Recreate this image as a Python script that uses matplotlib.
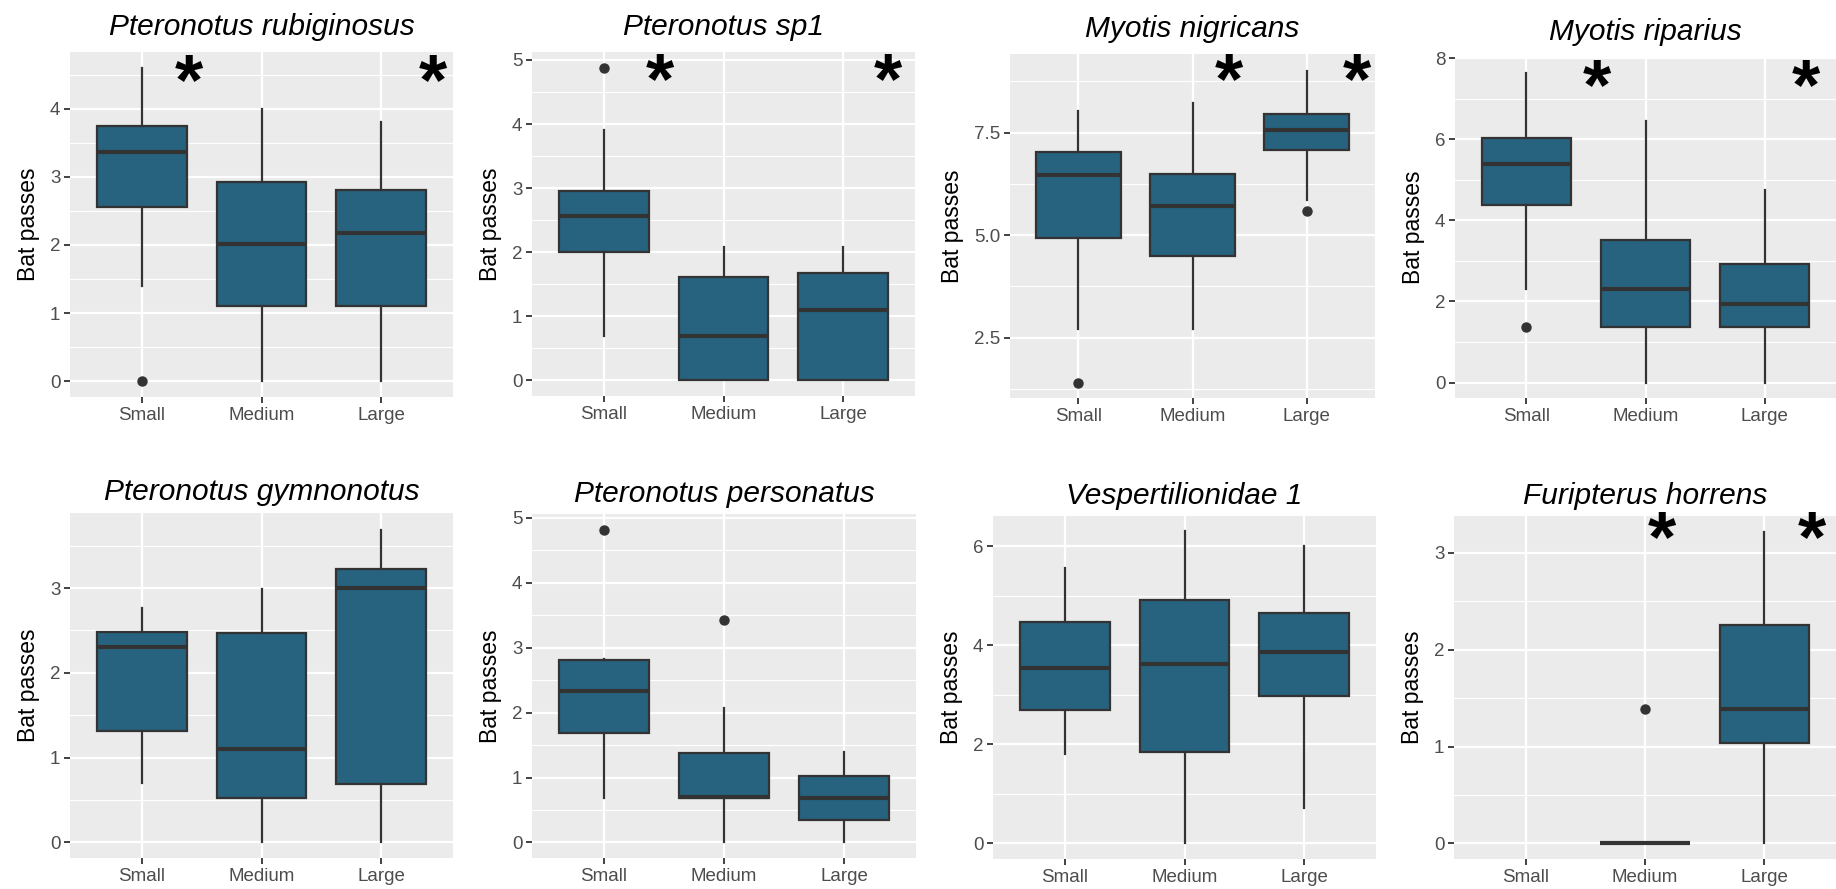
import matplotlib
matplotlib.use("Agg")
import matplotlib.pyplot as plt
from matplotlib.ticker import MultipleLocator, FormatStrFormatter

plt.rcParams['font.family'] = ['Liberation Sans', 'DejaVu Sans']

groups = ['Small', 'Medium', 'Large']

titles = ['Pteronotus rubiginosus', 'Pteronotus sp1', 'Myotis nigricans', 'Myotis riparius',
          'Pteronotus gymnonotus', 'Pteronotus personatus', 'Vespertilionidae 1', 'Furipterus horrens']

# box stats per group: [whislo, q1, med, q3, whishi]  (None = no data)
rubiginosus = [[1.4, 2.55, 3.37, 3.75, 4.6], [0, 1.1, 2.02, 2.93, 4.0], [0, 1.1, 2.17, 2.8, 3.8]]
rubiginosus_out = [[0.0], [], []]

sp1 = [[0.7, 2.0, 2.57, 2.95, 3.9], [0, 0, 0.7, 1.61, 2.08], [0, 0, 1.1, 1.67, 2.08]]
sp1_out = [[4.88], [], []]

nigricans = [[2.72, 4.93, 6.48, 7.04, 8.02], [2.72, 4.49, 5.72, 6.5, 8.23], [5.87, 7.09, 7.57, 7.96, 9.01]]
nigricans_out = [[1.4], [], [5.6]]

riparius = [[2.3, 4.38, 5.38, 6.04, 7.63], [0, 1.38, 2.3, 3.52, 6.45], [0, 1.38, 1.94, 2.93, 4.74]]
riparius_out = [[1.37], [], []]

gymnonotus = [[0.7, 1.31, 2.3, 2.48, 2.76], [0, 0.52, 1.1, 2.47, 2.99], [0, 0.69, 3.0, 3.22, 3.69]]
gymnonotus_out = [[], [], []]

personatus = [[0.69, 1.69, 2.33, 2.81, 2.82], [0, 0.69, 0.7, 1.38, 2.07], [0, 0.34, 0.69, 1.03, 1.39]]
personatus_out = [[4.82], [3.43], []]

vesper = [[1.8, 2.69, 3.54, 4.47, 5.57], [0, 1.84, 3.62, 4.92, 6.32], [0.71, 2.97, 3.87, 4.66, 6.01]]
vesper_out = [[], [], []]

furipterus = [None, [0, 0, 0, 0, 0], [0, 1.04, 1.39, 2.25, 3.22]]
furipterus_out = [[], [1.39], []]

stats = [rubiginosus, sp1, nigricans, riparius, gymnonotus, personatus, vesper, furipterus]
outliers = [rubiginosus_out, sp1_out, nigricans_out, riparius_out,
            gymnonotus_out, personatus_out, vesper_out, furipterus_out]

# significance asterisks: (x, y) in data units (glyph centre)
stars = [[(1.39, 4.53), (3.43, 4.53)],
         [(1.47, 4.83), (3.37, 4.83)],
         [(2.32, 8.99), (3.44, 8.99)],
         [(1.59, 7.53), (3.35, 7.53)],
         [], [], [],
         [(2.14, 3.24), (3.40, 3.24)]]

ylims = [(-0.23, 4.83), (-0.244, 5.124), (1.03, 9.42), (-0.38, 8.03),
         (-0.185, 3.885), (-0.24, 5.06), (-0.315, 6.615), (-0.16, 3.38)]
ysteps = [1, 1, 2.5, 2, 1, 1, 2, 1]

# panel boxes in pixels: left, top, right, bottom
W, H = 1836, 889
boxes = [(70, 52, 453, 397), (532, 52, 915, 396), (1010, 54, 1375, 398), (1455, 57, 1836, 398),
         (70, 513, 453, 858), (532, 514, 916, 858), (993, 516, 1376, 859), (1454, 516, 1836, 859)]

fill = '#27627F'
dark = '#333333'
star_size = 52

fig = plt.figure(figsize=(W / 100, H / 100), dpi=100)

for i in range(8):
    l, t, r, b = boxes[i]
    ax = fig.add_axes([l / W, (H - b) / H, (r - l) / W, (b - t) / H])
    ax.set_facecolor('#EBEBEB')
    for s in ax.spines.values():
        s.set_visible(False)

    bxp_stats = []
    pos = []
    for j, st in enumerate(stats[i]):
        if st is None:
            continue
        bxp_stats.append(dict(whislo=st[0], q1=st[1], med=st[2], q3=st[3], whishi=st[4],
                              fliers=outliers[i][j]))
        pos.append(j + 1)
    ax.bxp(bxp_stats, positions=pos, widths=0.75, patch_artist=True, showcaps=False,
           boxprops=dict(facecolor=fill, edgecolor=dark, linewidth=1.6),
           whiskerprops=dict(color=dark, linewidth=1.6),
           medianprops=dict(color=dark, linewidth=3.0, solid_capstyle='butt'),
           flierprops=dict(marker='o', markerfacecolor=dark, markeredgecolor=dark, markersize=6.5),
           zorder=3)

    for (sx, sy) in stars[i]:
        # baseline sits below the centre of the asterisk glyph
        ax.annotate('*', (sx, sy), xytext=(0, -0.44 * star_size), textcoords='offset points',
                    fontsize=star_size, fontweight='bold', ha='center', va='baseline', zorder=4)

    ax.set_xlim(0.4, 3.6)
    ax.set_ylim(*ylims[i])
    ax.set_xticks([1, 2, 3])
    ax.set_xticklabels(groups)
    ax.yaxis.set_major_locator(MultipleLocator(ysteps[i]))
    ax.yaxis.set_minor_locator(MultipleLocator(ysteps[i] / 2))
    if ysteps[i] == 2.5:
        ax.yaxis.set_major_formatter(FormatStrFormatter('%.1f'))
    ax.grid(which='major', color='white', linewidth=1.6, zorder=0)
    ax.grid(which='minor', axis='y', color='white', linewidth=0.8, zorder=0)
    ax.set_axisbelow(True)
    ax.tick_params(which='major', length=4, width=1.3, color=dark, labelcolor='#4D4D4D',
                   labelsize=13.5, pad=3)
    ax.tick_params(which='minor', length=0)
    ax.set_ylabel('Bat passes', fontsize=16.5, labelpad=7)
    ax.set_title(titles[i], fontsize=21.5, style='italic', pad=12 if i < 4 else 9)

fig.savefig('out.png', dpi=100)
